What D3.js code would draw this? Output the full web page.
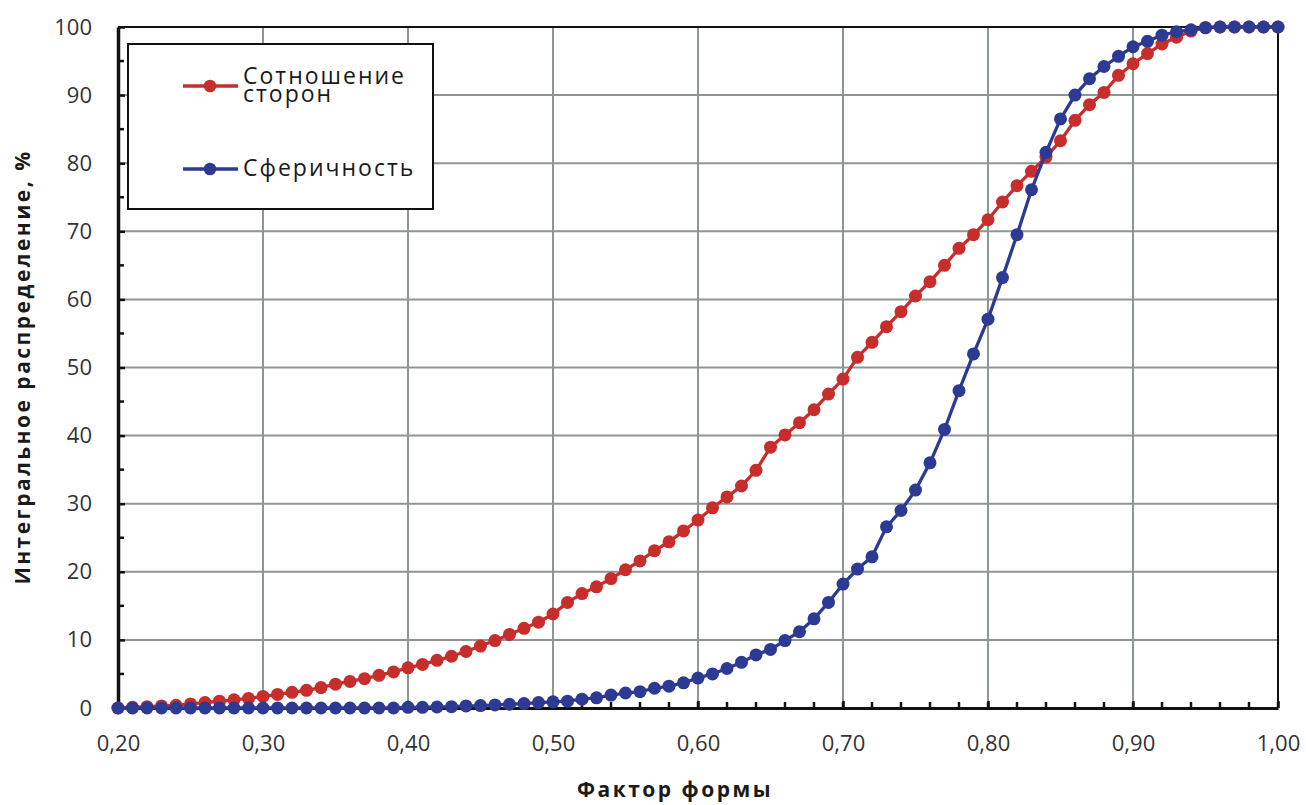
<!DOCTYPE html>
<html>
<head>
<meta charset="utf-8">
<script src="https://cdn.jsdelivr.net/npm/d3@7"></script>
<style>
body { margin: 0; background: #ffffff; }
text { font-family: "Open Sans", "Noto Sans", sans-serif; fill: #333333; }
text.axis-title { font-weight: bold; fill: #1a1a1a; letter-spacing: 2.5px; }
text.legend-text { fill: #1a1a1a; letter-spacing: 2px; }
</style>
</head>
<body>
<svg id="chart" width="1306" height="805"></svg>
<script>

// x values: shape factor 0.20 .. 1.00, step 0.01
var shapeFactor = d3.range(20, 101).map(function(v) { return v / 100; });

// aspect ratio (Сотношение сторон), cumulative %
var aspectRatio = [
    0.0, 0.1, 0.2, 0.3, 0.4, 0.6, 0.8, 1.0, 1.2, 1.4,
    1.7, 2.0, 2.3, 2.6, 3.0, 3.5, 3.9, 4.3, 4.8, 5.3,
    5.9, 6.4, 7.0, 7.6, 8.3, 9.1, 9.9, 10.8, 11.7, 12.6,
    13.8, 15.5, 16.8, 17.8, 19.0, 20.3, 21.6, 23.1, 24.4, 26.0,
    27.6, 29.4, 31.0, 32.6, 34.9, 38.3, 40.1, 41.9, 43.8, 46.1,
    48.3, 51.5, 53.7, 56.0, 58.2, 60.5, 62.6, 65.0, 67.5, 69.5,
    71.7, 74.3, 76.7, 78.8, 80.9, 83.3, 86.3, 88.6, 90.4, 92.9,
    94.6, 96.1, 97.5, 98.5, 99.4, 99.9, 100, 100, 100, 100,
    100
];

// sphericity (Сферичность), cumulative %
var sphericity = [
    0, 0, 0, 0, 0, 0, 0, 0, 0, 0,
    0, 0, 0, 0, 0, 0, 0, 0, 0, 0,
    0.1, 0.1, 0.15, 0.2, 0.3, 0.35, 0.45, 0.55, 0.65, 0.8,
    0.9, 1.0, 1.3, 1.5, 1.9, 2.2, 2.4, 2.9, 3.2, 3.7,
    4.4, 5.0, 5.8, 6.7, 7.8, 8.6, 9.9, 11.2, 13.1, 15.5,
    18.2, 20.4, 22.2, 26.6, 29.0, 32.0, 36.0, 40.9, 46.6, 52.0,
    57.1, 63.2, 69.5, 76.1, 81.6, 86.5, 90.0, 92.4, 94.2, 95.7,
    97.1, 97.9, 98.8, 99.3, 99.6, 99.9, 100, 100, 100, 100,
    100
];

var xTicks = [0.2, 0.3, 0.4, 0.5, 0.6, 0.7, 0.8, 0.9, 1.0];
var xMinorTicks = d3.range(20, 101, 2).map(function(v) { return v / 100; });
var yTicks = [0, 10, 20, 30, 40, 50, 60, 70, 80, 90, 100];
var yMinorTicks = d3.range(5, 100, 10);

var seriesNames = [["Сотношение", "сторон"], ["Сферичность"]];
var seriesColors = ["#c62d2b", "#2c3a93"];

var svg = d3.select("#chart");
// plot area edges (avoid the name "top", it is window.top)
var plotLeft = 118, plotRight = 1278, plotTop = 27, plotBottom = 708;

var x = d3.scaleLinear().domain([0.2, 1.0]).range([plotLeft, plotRight]);
var y = d3.scaleLinear().domain([0, 100]).range([plotBottom, plotTop]);

// grid lines
var grid = svg.append("g").attr("class", "grid");
grid.selectAll("line.gx").data(xTicks.slice(1, -1)).enter().append("line")
.attr("x1", x).attr("x2", x).attr("y1", plotTop).attr("y2", plotBottom)
.style("stroke", "#8d9595").style("stroke-width", 2);
grid.selectAll("line.gy").data(yTicks.slice(1, -1)).enter().append("line")
.attr("x1", plotLeft).attr("x2", plotRight).attr("y1", y).attr("y2", y)
.style("stroke", "#8d9595").style("stroke-width", 2);

// frame (top and right)
svg.append("path")
.attr("d", "M" + plotLeft + "," + plotTop + "H" + plotRight + "V" + plotBottom)
.style("fill", "none").style("stroke", "#111").style("stroke-width", 2);

// x axis: ticks inside, labels below
var xAxis = d3.axisBottom(x).tickValues(xTicks).tickSizeInner(-7).tickSizeOuter(0)
.tickPadding(20).tickFormat(function(d) { return d3.format(".2f")(d).replace(".", ","); });
var gx = svg.append("g").attr("transform", "translate(0," + plotBottom + ")").call(xAxis);
gx.selectAll("path.domain").style("stroke", "#111").style("stroke-width", 3);
gx.selectAll(".tick line").style("stroke", "#111").style("stroke-width", 2.5);
gx.selectAll("text").style("font-size", "22px").style("fill", "#333").attr("y", 27).attr("dy", "0.71em");
gx.selectAll("line.minor").data(xMinorTicks).enter().append("line").attr("class", "minor")
.attr("x1", x).attr("x2", x).attr("y1", 0).attr("y2", -6)
.style("stroke", "#111").style("stroke-width", 2.5);

// y axis: ticks inside, labels left
var yAxis = d3.axisLeft(y).tickValues(yTicks).tickSizeInner(-7).tickSizeOuter(0).tickPadding(27);
var gy = svg.append("g").attr("transform", "translate(" + plotLeft + ",0)").call(yAxis);
gy.selectAll("path.domain").style("stroke", "#111").style("stroke-width", 3.5);
gy.selectAll(".tick line").style("stroke", "#111").style("stroke-width", 2.5);
gy.selectAll("text").style("font-size", "22px").style("fill", "#333").attr("x", -26);
gy.selectAll("line.minor").data(yMinorTicks).enter().append("line").attr("class", "minor")
.attr("x1", 0).attr("x2", 6).attr("y1", y).attr("y2", y)
.style("stroke", "#111").style("stroke-width", 2.5);

// axis titles
svg.append("text").attr("class", "axis-title")
.attr("x", 675).attr("y", 797).attr("text-anchor", "middle")
.style("font-size", "21px").text("Фактор формы");
svg.append("text").attr("class", "axis-title")
.attr("transform", "translate(30,367)rotate(-90)").attr("text-anchor", "middle")
.style("font-size", "21px").text("Интегральное распределение, %");

// series
var series = [aspectRatio, sphericity];
var line = d3.line().x(function(d, i) { return x(shapeFactor[i]); }).y(function(d) { return y(d); });

series.forEach(function(values, k) {
    var g = svg.append("g").attr("class", "series");
    g.append("path").datum(values).attr("d", line)
    .style("fill", "none").style("stroke", seriesColors[k]).style("stroke-width", 3.3);
    g.selectAll("circle").data(values).enter().append("circle")
    .attr("cx", function(d, i) { return x(shapeFactor[i]); })
    .attr("cy", function(d) { return y(d); })
    .attr("r", 6.5)
    .style("fill", seriesColors[k]);
});

// legend
var legend = svg.append("g").attr("class", "legend");
legend.append("rect").attr("x", 128).attr("y", 44).attr("width", 305).attr("height", 165)
.style("fill", "#fff").style("stroke", "#111").style("stroke-width", 2);

var legendY = [86, 169];
seriesNames.forEach(function(name, k) {
    legend.append("line").attr("x1", 183).attr("x2", 238).attr("y1", legendY[k]).attr("y2", legendY[k])
    .style("stroke", seriesColors[k]).style("stroke-width", 3.3);
    legend.append("circle").attr("cx", 210).attr("cy", legendY[k]).attr("r", 6.3)
    .style("fill", seriesColors[k]);
    var t = legend.append("text").attr("class", "legend-text").attr("x", 243)
    .style("font-size", "23px");
    name.forEach(function(part, j) {
        t.append("tspan").attr("x", 243)
        .attr("y", (name.length > 1 ? legendY[k] - 2 : legendY[k] + 7) + j * 18)
        .text(part);
    });
});

</script>
</body>
</html>
